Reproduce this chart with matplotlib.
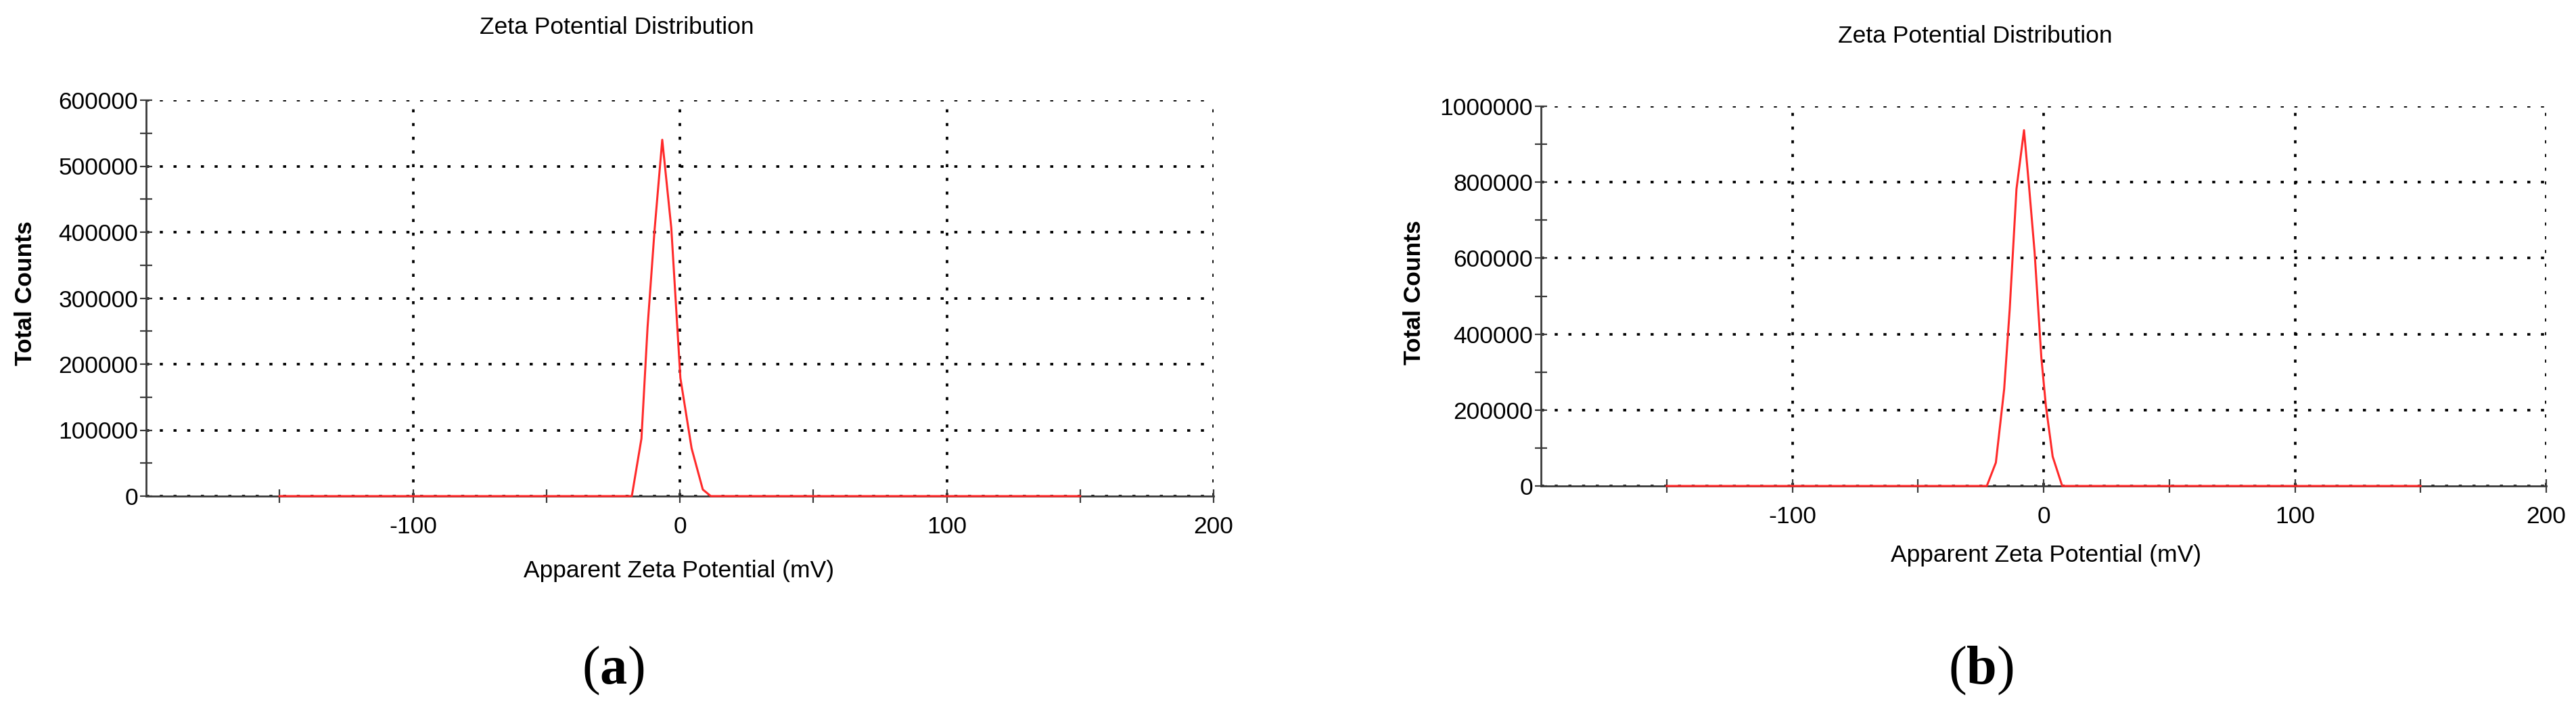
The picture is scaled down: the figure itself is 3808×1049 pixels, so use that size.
import matplotlib
matplotlib.use('Agg')
import matplotlib.pyplot as plt
import matplotlib.ticker as mticker

plt.rcParams['font.family'] = ['Liberation Sans', 'DejaVu Sans']
plt.rcParams['axes.unicode_minus'] = False
plt.rcParams['mathtext.fontset'] = 'custom'
plt.rcParams['mathtext.rm'] = 'Liberation Serif'
plt.rcParams['mathtext.bf'] = 'Liberation Serif:bold'

# data (mV, total counts)
a_zeta = [-150, -18.0, -14.4, -12.1, -9.5, -6.6, -3.2, 0.2, 4.4, 8.6, 11.6, 150]
a_counts = [0, 0, 87000, 256000, 402000, 540000, 406000, 179000, 72500, 10000, 0, 0]

b_zeta = [-150, -22.6, -19.0, -15.7, -13.5, -10.8, -7.8, -5.8, -3.6, -0.9, 0.9, 3.6, 7.4, 150]
b_counts = [0, 0, 61600, 255000, 465000, 782000, 937000, 789000, 617000, 338000, 211000, 77500, 0, 0]

x_major = [-100, 0, 100, 200]
x_minor = [-150, -50, 50, 150]
a_ymax, a_ystep = 600000, 100000
b_ymax, b_ystep = 1000000, 200000

W, H = 3808, 1049
fig = plt.figure(figsize=(W / 100, H / 100), dpi=100)


def box(left, top, right, bottom):
    return [left / W, 1 - bottom / H, (right - left) / W, (bottom - top) / H]


def draw_panel(ax, zeta, counts, ymax, ystep):
    ax.plot(zeta, counts, color='#ff2a2a', lw=2.2, zorder=3, clip_on=False)
    ax.set_xlim(-200, 200)
    ax.set_ylim(0, ymax)
    ax.set_xticks(x_major)
    ax.set_xticks(x_minor, minor=True)
    ax.set_yticks(range(0, ymax + 1, ystep))
    ax.set_yticks(range(ystep // 2, ymax, ystep), minor=True)
    ax.yaxis.set_major_formatter(mticker.FormatStrFormatter('%d'))
    for s in ['top', 'right']:
        ax.spines[s].set_visible(False)
    for s in ['left', 'bottom']:
        ax.spines[s].set_color('#3a3a3a')
        ax.spines[s].set_linewidth(2.0)
    ax.tick_params(axis='both', which='both', direction='inout', color='#3a3a3a',
                   width=1.6, labelsize=25.5)
    ax.tick_params(axis='y', which='both', length=13, pad=2)
    ax.tick_params(axis='x', which='both', length=14, pad=14)
    ax.grid(True, which='major', color='black', lw=2.7, linestyle=(0, (1.2, 4.2)))
    ax.set_axisbelow(True)


ax1 = fig.add_axes(box(216, 148, 1794, 733))
draw_panel(ax1, a_zeta, a_counts, a_ymax, a_ystep)
ax2 = fig.add_axes(box(2278, 157, 3764, 718))
draw_panel(ax2, b_zeta, b_counts, b_ymax, b_ystep)

# titles, axis labels and captions
for cx, by in [(912, 50), (2920, 63)]:
    fig.text(cx / W, 1 - by / H, 'Zeta Potential Distribution', fontsize=25.5,
             ha='center', va='baseline')
for cx, by in [(1004, 853), (3025, 830)]:
    fig.text(cx / W, 1 - by / H, 'Apparent Zeta Potential (mV)', fontsize=25.5,
             ha='center', va='baseline')
for cx, cy in [(38, 433), (2090, 432)]:
    fig.text(cx / W, 1 - cy / H, 'Total Counts', fontsize=25.5, fontweight='bold',
             rotation=90, ha='center', va='center')
for cx, letter in [(906, 'a'), (2928, 'b')]:
    fig.text(cx / W, 1 - 991 / H, '($\\mathbf{' + letter + '}$)', fontsize=58,
             family='Liberation Serif', ha='center', va='center')

fig.savefig('out.png', dpi=100)
